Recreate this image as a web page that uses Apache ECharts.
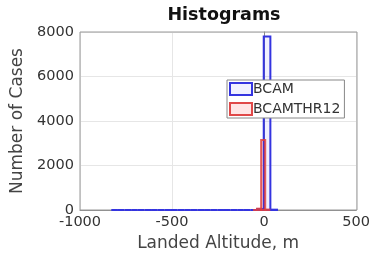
<!DOCTYPE html>
<html><head><meta charset="utf-8">
<script src="https://cdn.jsdelivr.net/npm/echarts@6/dist/echarts.min.js"></script>
<style>html,body{margin:0;padding:0;background:#fff}#c{width:373px;height:264px}</style>
</head><body><div id="c"></div>
<script>
var blueEdges = [-830,-794,-758,-722,-686,-650,-614,-578,-542,-506,-470,-434,-398,-362,-326,-290,-254,-218,-182,-146,-110,-74,-38,-2,34,70];
var blueCounts = [0,0,0,0,0,0,0,0,0,0,0,0,0,0,0,0,0,0,0,0,0,0,40,7800,15];
var redEdges = [-60,-38,-16,6,28];
var redCounts = [0,60,3150,20];
var xTicks = [-1000,-500,0,500];
var yTicks = [0,2000,4000,6000,8000];

function toBins(edges, counts){
  var out = [];
  for (var i = 0; i < counts.length; i++) out.push([edges[i], edges[i+1], counts[i]]);
  return out;
}
function renderBin(params, api){
  var p0 = api.coord([api.value(0), 0]);
  var p1 = api.coord([api.value(1), api.value(2)]);
  return {
    type: 'rect',
    shape: {x: p0[0], y: p1[1], width: p1[0]-p0[0], height: p0[1]-p1[1]},
    style: api.style()
  };
}
var chart = echarts.init(document.getElementById('c'));
var font = 'DejaVu Sans';
chart.setOption({
  animation: false,
  title: {text: 'Histograms', left: 219, top: 1, textAlign: 'center',
    textStyle: {fontFamily: font, fontSize: 17.5, fontWeight: 'bold', color: '#111'}},
  grid: {left: 80, right: 16, top: 32, bottom: 54},
  legend: {
    orient: 'vertical', left: 227, top: 80, itemWidth: 22, itemHeight: 12, itemGap: 6,
    padding: [2, 4, 2, 2], backgroundColor: '#fff', borderColor: '#888', borderWidth: 1, borderRadius: 0,
    textStyle: {fontFamily: font, fontSize: 14, color: '#333', padding: [0,0,0,-4]},
    data: [
      {name: 'BCAM', icon: 'rect', itemStyle: {color: 'rgba(0,0,255,0.06)', borderColor: '#3434e0', borderWidth: 2}},
      {name: 'BCAMTHR12', icon: 'rect', itemStyle: {color: 'rgba(255,0,0,0.10)', borderColor: '#e04848', borderWidth: 2}}
    ]
  },
  xAxis: {
    type: 'value', min: -1000, max: 500, interval: 500,
    name: 'Landed Altitude, m', nameLocation: 'middle', nameGap: 23,
    nameTextStyle: {fontFamily: font, fontSize: 17, color: '#444'},
    axisLine: {show: true, lineStyle: {color: '#888'}},
    axisTick: {show: false},
    axisLabel: {fontFamily: font, fontSize: 14.5, color: '#333', margin: 5,
      formatter: function(v){ return xTicks.indexOf(v) >= 0 ? String(v) : ''; }},
    splitLine: {show: true, lineStyle: {color: '#e6e6e6'}}
  },
  yAxis: {
    type: 'value', min: 0, max: 8000, interval: 2000,
    name: 'Number of Cases', nameLocation: 'middle', nameGap: 52,
    nameTextStyle: {fontFamily: font, fontSize: 17, color: '#444'},
    axisLine: {show: true, lineStyle: {color: '#888'}},
    axisTick: {show: false},
    axisLabel: {fontFamily: font, fontSize: 14.5, color: '#333', margin: 6,
      formatter: function(v){ return yTicks.indexOf(v) >= 0 ? String(v) : ''; }},
    splitLine: {show: true, lineStyle: {color: '#e6e6e6'}}
  },
  graphic: [{type: 'rect', shape: {x: 80, y: 32, width: 277, height: 178}, silent: true, z: 1,
    style: {fill: 'none', stroke: '#999', lineWidth: 1}}],
  series: [
    {name: 'BCAM', type: 'custom', renderItem: renderBin, data: toBins(blueEdges, blueCounts),
      encode: {x: [0,1], y: 2}, z: 3,
      itemStyle: {color: 'rgba(0,0,255,0.06)', borderColor: '#3434e0', borderWidth: 2}},
    {name: 'BCAMTHR12', type: 'custom', renderItem: renderBin, data: toBins(redEdges, redCounts),
      encode: {x: [0,1], y: 2}, z: 4,
      itemStyle: {color: 'rgba(255,0,0,0.10)', borderColor: 'rgba(224,64,64,0.85)', borderWidth: 2}}
  ]
});
</script></body></html>
